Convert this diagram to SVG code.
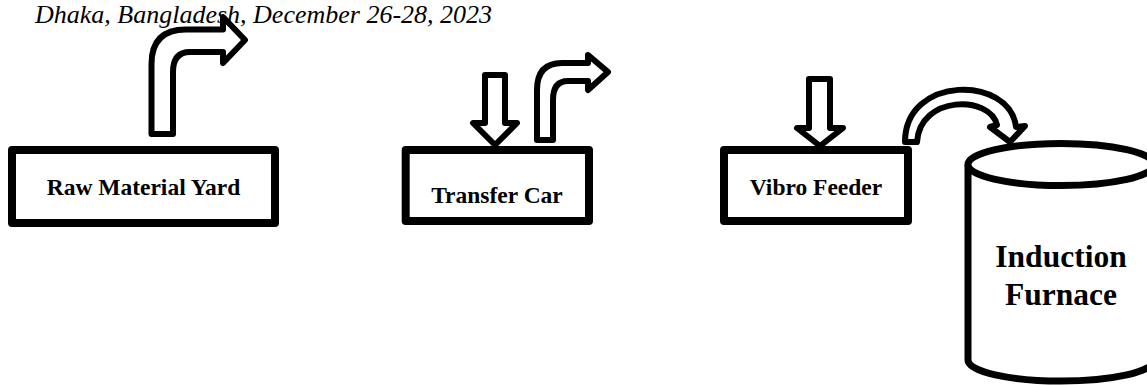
<svg xmlns="http://www.w3.org/2000/svg" width="1147" height="385" viewBox="0 0 1147 385">
<style>
.box{fill:#fff;stroke:#000;stroke-width:8;stroke-linejoin:round}
.arr{fill:#fff;stroke:#000;stroke-width:6;stroke-linejoin:round}
.cyl{fill:#fff;stroke:#000;stroke-width:7}
.lbl{font-family:"Liberation Serif","Times New Roman",serif;font-weight:bold;font-size:23.5px;text-anchor:middle;fill:#000}
.big{font-family:"Liberation Serif","Times New Roman",serif;font-weight:bold;font-size:31.5px;text-anchor:middle;fill:#000}
.hdr{font-family:"Liberation Serif","Times New Roman",serif;font-style:italic;font-size:26px;fill:#000}
</style>
<rect width="1147" height="385" fill="#fff"/>
<text class="hdr" x="35" y="23">Dhaka, Bangladesh, December 26-28, 2023</text>
<g id="raw-material-yard">
<rect class="box" x="12" y="150" width="263" height="73"/>
<text class="lbl" x="143.5" y="195">Raw Material Yard</text>
</g>
<g id="transfer-car">
<rect class="box" x="405.7" y="150" width="183.3" height="71"/>
<text class="lbl" x="497" y="203">Transfer Car</text>
</g>
<g id="vibro-feeder">
<rect class="box" x="724" y="150" width="184" height="71"/>
<text class="lbl" x="816" y="195">Vibro Feeder</text>
</g>
<g id="induction-furnace">
<path class="cyl" d="M968,164.5 L968,360 A93,21 0 0 0 1154,360 L1154,164.5"/>
<ellipse class="cyl" cx="1061" cy="164.5" rx="93" ry="21"/>
<text class="big" x="1061" y="267">Induction</text>
<text class="big" x="1061" y="305">Furnace</text>
</g>
<g id="connectors">
<path class="arr" d="M151.5,134 L151.5,64 Q151.5,29.5 186,29.5 L223,29.5 L223,17 L245,40 L223,63 L223,52 L190,52 Q173,52 173,72 L173,134 Z"/>
<path class="arr" d="M485,75 L505,75 L505,123 L517,123 L495,145 L473,123 L485,123 Z"/>
<path class="arr" d="M537,140 L537,90 Q537,63 562,63 L588,63 L588,55 L608,72 L588,90 L588,81 L568,81 Q553,81 553,100 L553,140 Z"/>
<path class="arr" d="M809,79 L830,79 L830,128 L843,128 L820,146 L797,128 L809,128 Z"/>
<path class="arr" d="M905,142 C905,75 1010,75 1016,127 L1025,126 L1010,142 L990,127 L997,125 C990,95 920,95 917,142 Z"/>
</g>
</svg>
